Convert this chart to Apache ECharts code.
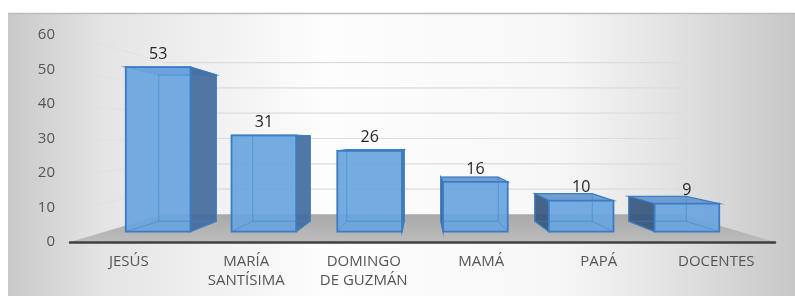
<!DOCTYPE html>
<html>
<head>
<meta charset="utf-8">
<script src="https://cdn.jsdelivr.net/npm/echarts@6/dist/echarts.min.js"></script>
<style>
html,body{margin:0;padding:0;background:#fff;}
#chart{width:795px;height:296px;}
</style>
</head>
<body>
<div id="chart"></div>
<script>
const categories = ['JESÚS', 'MARÍA\nSANTÍSIMA', 'DOMINGO\nDE GUZMÁN', 'MAMÁ', 'PAPÁ', 'DOCENTES'];
const values = [53, 31, 26, 16, 10, 9];
const yTicks = [0, 10, 20, 30, 40, 50, 60];

const FONT = '"Open Sans", Lato, sans-serif';
const BACK_S = 0.733;   // depth of back wall
const BAR_FRONT_S = 0.9;
const BAR_BACK_S = 0.8;
const BAR_HALF = 0.306; // half of bar width as fraction of band

function proj(p, s, cs) {
  const cx = cs.x + cs.width / 2, cy = cs.y + cs.height / 2;
  return [cx + (p[0] - cx) * s, cy + (p[1] - cy) * s];
}

const chart = echarts.init(document.getElementById('chart'), null, {renderer: 'canvas'});

const option = {
  animation: false,
  backgroundColor: '#ffffff',
  graphic: [
    {
      type: 'rect', z: -10, silent: true,
      shape: {x: 8, y: 13, width: 787, height: 283},
      style: {
        fill: new echarts.graphic.LinearGradient(0, 0, 1, 0, [
          {offset: 0, color: '#c9c9c9'},
          {offset: 0.12, color: '#e4e4e4'},
          {offset: 0.4, color: '#fdfdfd'},
          {offset: 0.7, color: '#f7f7f7'},
          {offset: 0.85, color: '#e1e1e1'},
          {offset: 1, color: '#c7c7c7'}
        ])
      }
    },
    {
      type: 'line', z: -9, silent: true,
      shape: {x1: 8, y1: 13.5, x2: 795, y2: 13.5},
      style: {stroke: '#bdbdbd', lineWidth: 1.5}
    }
  ],
  grid: {left: 70, right: 20, top: 35, bottom: 54},
  xAxis: {
    type: 'category',
    data: categories,
    axisTick: {show: false},
    axisLine: {show: true, lineStyle: {color: '#404040', width: 2.5}},
    axisLabel: {color: '#555555', fontSize: 15, fontFamily: FONT, margin: 10, lineHeight: 19, interval: 0},
    z: 10
  },
  yAxis: {
    type: 'value',
    min: 0, max: 60, interval: 10,
    axisLine: {show: false},
    axisTick: {show: false},
    splitLine: {show: false},
    axisLabel: {color: '#555555', fontSize: 15, fontFamily: FONT, margin: 15}
  },
  series: [
    {
      type: 'custom',
      silent: true,
      z: 1,
      data: yTicks.map(t => [0, t]),
      encode: {x: 0, y: 1},
      renderItem: function (params, api) {
        const cs = params.coordSys;
        const v = api.value(1);
        const y = api.coord([0, v])[1];
        const x0 = cs.x, x1 = cs.x + cs.width;
        const children = [];
        if (v === 0) {
          const a = [x0, y], b = [x1, y];
          const c = proj(b, BACK_S, cs), d = proj(a, BACK_S, cs);
          children.push({
            type: 'polygon',
            shape: {points: [a, b, c, d]},
            style: {
              fill: new echarts.graphic.LinearGradient(0, 0, 0, 1, [
                {offset: 0, color: '#a9a9a9'},
                {offset: 1, color: '#bcbcbc'}
              ])
            }
          });
        } else {
          const l = proj([x0, y], BACK_S, cs), r = proj([x1, y], BACK_S, cs);
          children.push({
            type: 'line',
            shape: {x1: l[0], y1: l[1], x2: r[0], y2: r[1]},
            style: {stroke: '#dcdcdc', lineWidth: 1.2}
          });
          children.push({
            type: 'line',
            shape: {x1: x0 + 8, y1: y + 2, x2: l[0], y2: l[1]},
            style: {stroke: '#dedede', lineWidth: 1, opacity: 0.7}
          });
        }
        return {type: 'group', children: children};
      }
    },
    {
      type: 'custom',
      z: 5,
      data: values.map((v, i) => [i, v]),
      encode: {x: 0, y: 1},
      renderItem: function (params, api) {
        const cs = params.coordSys;
        const i = api.value(0), v = api.value(1);
        const base = api.coord([i, 0]);
        const top = api.coord([i, v]);
        const band = api.size([1, 0])[0];
        const half = band * BAR_HALF;
        const xl = base[0] - half, xr = base[0] + half;
        const fLT = proj([xl, top[1]], BAR_FRONT_S, cs);
        const fRT = proj([xr, top[1]], BAR_FRONT_S, cs);
        const fRB = proj([xr, base[1]], BAR_FRONT_S, cs);
        const fLB = proj([xl, base[1]], BAR_FRONT_S, cs);
        const bLT = proj([xl, top[1]], BAR_BACK_S, cs);
        const bRT = proj([xr, top[1]], BAR_BACK_S, cs);
        const bRB = proj([xr, base[1]], BAR_BACK_S, cs);
        const bLB = proj([xl, base[1]], BAR_BACK_S, cs);
        const vpx = cs.x + cs.width / 2;
        const rightSide = base[0] < vpx - 20;
        const leftSide = base[0] > vpx + 20;
        const edge = '#3d7cc2';
        const children = [];
        children.push({
          type: 'polygon',
          shape: {points: [fLT, fRT, bRT, bLT]},
          style: {fill: 'rgba(96,150,206,0.9)', stroke: edge, lineWidth: 1.2}
        });
        if (rightSide) {
          children.push({
            type: 'polygon',
            shape: {points: [fRT, bRT, bRB, fRB]},
            style: {fill: 'rgba(66,108,156,0.92)', stroke: edge, lineWidth: 1.2}
          });
        } else if (leftSide) {
          children.push({
            type: 'polygon',
            shape: {points: [fLT, bLT, bLB, fLB]},
            style: {fill: 'rgba(54,86,126,0.92)', stroke: edge, lineWidth: 1.2}
          });
        }
        children.push({
          type: 'polygon',
          shape: {points: [fLT, fRT, fRB, fLB]},
          style: {fill: 'rgba(104,164,222,0.92)', stroke: edge, lineWidth: 1.8}
        });
        children.push({
          type: 'polyline',
          shape: {points: [bLB, bLT, bRT, bRB, bLB]},
          style: {stroke: 'rgba(70,130,196,0.55)', lineWidth: 1, fill: null}
        });
        children.push({
          type: 'line',
          shape: {x1: fLB[0], y1: fLB[1], x2: bLB[0], y2: bLB[1]},
          style: {stroke: 'rgba(70,130,196,0.55)', lineWidth: 1}
        });
        children.push({
          type: 'line',
          shape: {x1: fRB[0], y1: fRB[1], x2: bRB[0], y2: bRB[1]},
          style: {stroke: 'rgba(70,130,196,0.55)', lineWidth: 1}
        });
        children.push({
          type: 'text',
          style: {
            text: String(v),
            x: (fLT[0] + fRT[0]) / 2,
            y: fLT[1] - 5,
            align: 'center',
            verticalAlign: 'bottom',
            fill: '#262626',
            fontSize: 16,
            fontFamily: FONT
          }
        });
        return {type: 'group', children: children};
      }
    }
  ]
};

chart.setOption(option);
</script>
</body>
</html>
